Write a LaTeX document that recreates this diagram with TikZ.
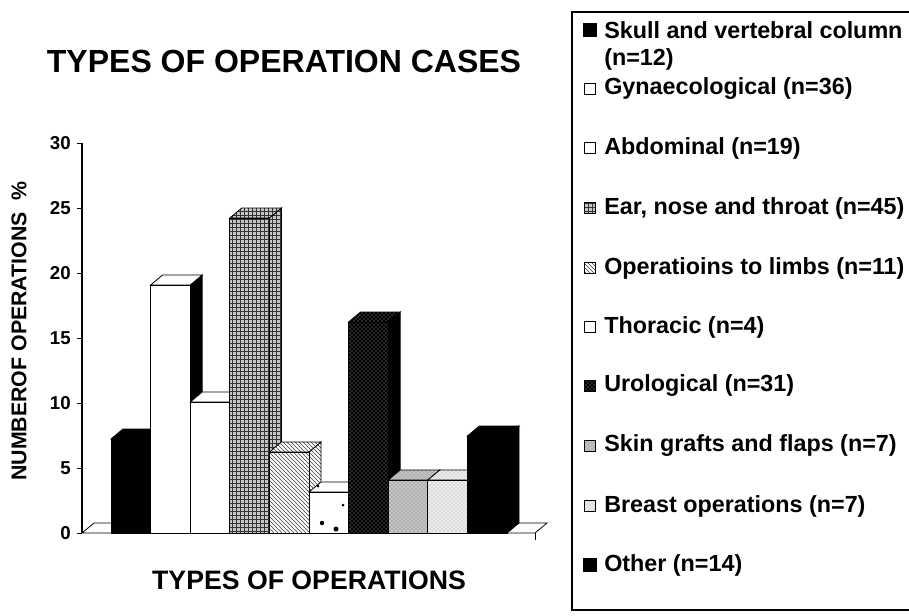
\documentclass[tikz,border=0pt]{standalone}
\usepackage{fontspec}
\setmainfont{Liberation Sans}
\usetikzlibrary{patterns}

\tikzset{
  fskull/.style={fill=black},
  fgyn/.style={fill=white},
  fabd/.style={fill=white},
  fent/.style={preaction={fill=gray!45}, pattern=grid, pattern color=black!80},
  flimb/.style={preaction={fill=white}, pattern=north west lines, pattern color=black!75},
  fthor/.style={fill=white},
  furo/.style={preaction={fill=black}, pattern=crosshatch dots, pattern color=gray!60},
  fskin/.style={preaction={fill=gray!60}, pattern=crosshatch dots, pattern color=white},
  fbreast/.style={preaction={fill=gray!15}, pattern=crosshatch dots, pattern color=gray!70},
  fother/.style={fill=black},
  legtext/.style={anchor=west, font=\fontsize{17.5}{20}\selectfont\bfseries, inner sep=0pt},
  legkey/.style={draw=black, line width=0.8pt, minimum size=8pt, inner sep=0pt},
  ticklabel/.style={anchor=east, font=\fontsize{14}{16}\selectfont\bfseries, inner sep=0pt}
}

% 3D column: left x, top y, front style, side style
\newcommand{\opbar}[4]{%
  \filldraw[#4, draw=black, line width=0.6pt] (#1+39.6,533) -- ++(12,-10) -- (#1+51.6,#2-10) -- (#1+39.6,#2) -- cycle;
  \filldraw[#3, draw=black, line width=0.6pt] (#1,#2) -- ++(12,-10) -- (#1+51.6,#2-10) -- (#1+39.6,#2) -- cycle;
  \filldraw[#3, draw=black, line width=0.6pt] (#1,533) rectangle (#1+39.6,#2);
}

\begin{document}
\begin{tikzpicture}[x=0.75pt, y=-0.75pt]
  \useasboundingbox (0,0) rectangle (909,615);

  \node[font=\fontsize{24}{28}\selectfont\bfseries] (title) at (284,61) {TYPES OF OPERATION CASES};
  \node[font=\fontsize{20}{24}\selectfont\bfseries] (xtitle) at (309,580) {TYPES OF OPERATIONS};
  \node[font=\fontsize{16}{18}\selectfont\bfseries, rotate=90] (ytitle) at (19,331) {NUMBEROF OPERATIONS \ \%};

  % floor and axis
  \coordinate (origin) at (82,533);
  \coordinate (ytop) at (82,143);
  \coordinate (fright) at (535,533);
  \filldraw[fill=white, line width=0.6pt] (origin) -- ++(12,-10) -- (547,523) -- (fright) -- cycle;
  \draw[line width=0.6pt] (fright) -- ++(0,7);
  \draw[line width=0.8pt] (origin) -- (ytop);
  \foreach \v in {0,5,...,30} {
    \draw[line width=0.6pt] (77,533-13*\v) -- (82,533-13*\v);
    \node[ticklabel] (t\v) at (71,533-13*\v) {\v};
  }

  % columns
  \opbar{111.0}{439}{fskull}{fskull}
  \opbar{150.6}{285}{fgyn}{fill=black}
  \opbar{190.2}{402}{fabd}{fabd}
  \opbar{229.8}{218}{fent}{fent}
  \opbar{269.4}{452}{flimb}{flimb}
  \opbar{309.0}{492}{fthor}{fthor}
  \fill (322,523) circle (2.2);
  \fill (336,529) circle (2.5);
  \fill (343,505) circle (1.5);
  \fill (318,486) circle (1.5);
  \opbar{348.6}{322}{furo}{fill=black}
  \opbar{388.2}{480}{fskin}{fskin}
  \opbar{427.8}{480}{fbreast}{fbreast}
  \opbar{467.4}{436}{fother}{fother}

  % legend
  \draw[line width=0.8pt] (909,12) -- (572,12) -- (572,610) -- (909,610);
  \node[legkey, fskull, minimum size=9pt] (kskull) at (590,30) {};
  \node[legtext] (lskull) at (604,30) {Skull and vertebral column};
  \node[legtext] (lskullb) at (604,59) {(n=12)};
  \node[legkey, fgyn] (kgyn) at (590,89) {};
  \node[legtext] (lgyn) at (604,89) {Gynaecological (n=36)};
  \node[legkey, fabd] (kabd) at (590,148) {};
  \node[legtext] (labd) at (604,148) {Abdominal (n=19)};
  \node[legkey, fent] (kent) at (590,208) {};
  \node[legtext] (lent) at (604,208) {Ear, nose and throat (n=45)};
  \node[legkey, flimb] (klimb) at (590,268) {};
  \node[legtext] (llimb) at (604,268) {Operatioins to limbs (n=11)};
  \node[legkey, fthor] (kthor) at (590,327) {};
  \node[legtext] (lthor) at (604,327) {Thoracic (n=4)};
  \node[legkey, furo] (kuro) at (590,386) {};
  \node[legtext] (luro) at (604,386) {Urological (n=31)};
  \node[legkey, fskin] (kskin) at (590,446) {};
  \node[legtext] (lskin) at (604,446) {Skin grafts and flaps (n=7)};
  \node[legkey, fbreast] (kbreast) at (590,506) {};
  \node[legtext] (lbreast) at (604,506) {Breast operations (n=7)};
  \node[legkey, fother, minimum size=9pt] (kother) at (590,565) {};
  \node[legtext] (lother) at (604,565) {Other (n=14)};
\end{tikzpicture}
\end{document}
